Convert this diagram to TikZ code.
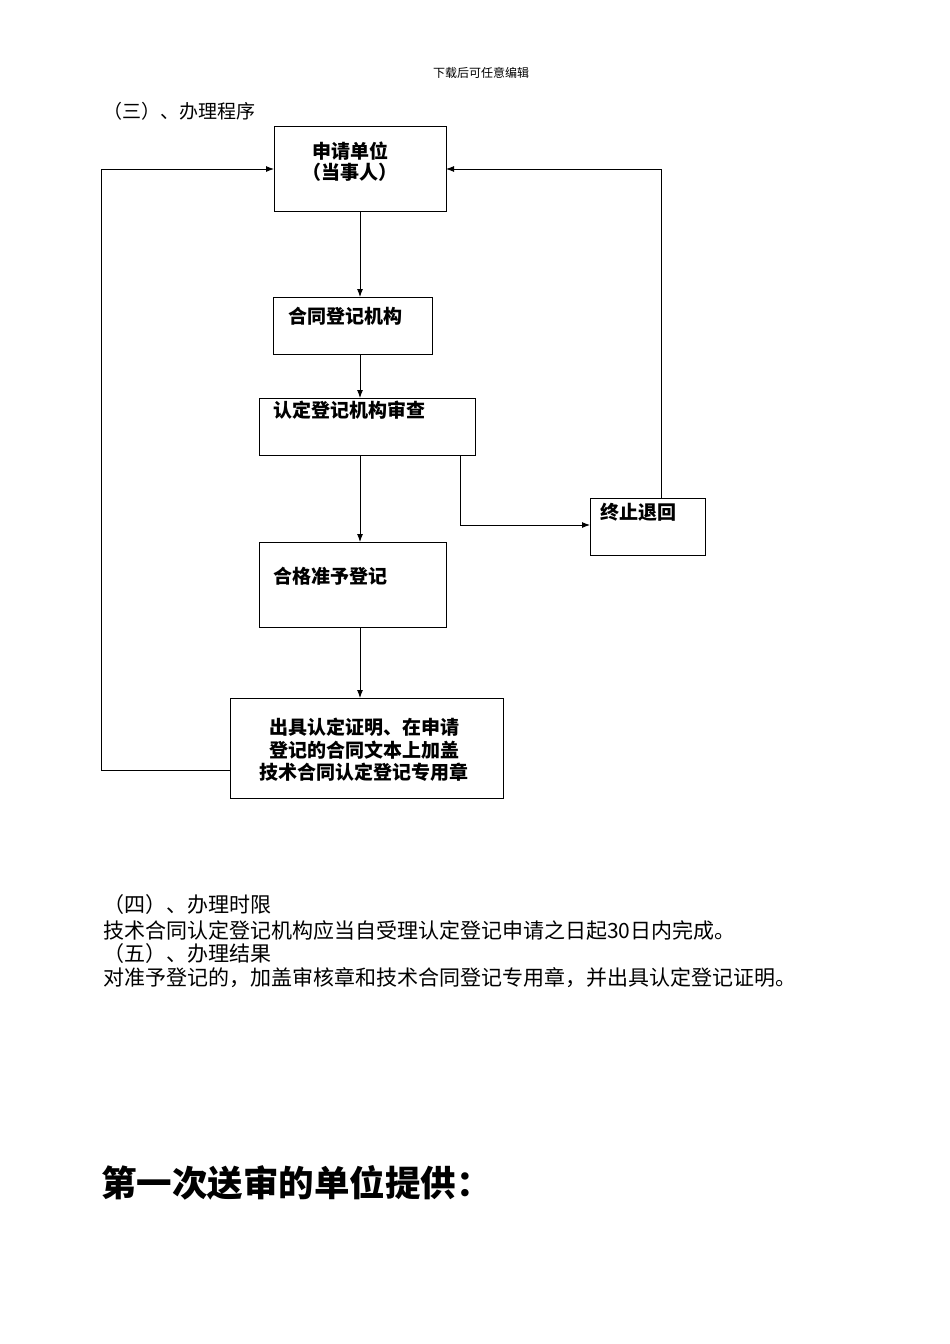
\documentclass[tikz,border=0pt]{standalone}
\usepackage{fontspec}
\setmainfont{Noto Sans CJK SC}
\usetikzlibrary{arrows.meta}
\begin{document}
\begin{tikzpicture}[x=1pt,y=-1pt,
  box/.style={draw,line width=0.9pt},
  lbl/.style={font=\fontsize{19}{21}\selectfont\bfseries,anchor=west,inner sep=0},
  txt/.style={font=\fontsize{21}{24}\selectfont,anchor=west,inner sep=0},
  arr/.style={-{Latex[length=8pt,width=6pt]},line width=0.9pt}]
\useasboundingbox[fill=white] (0,0) rectangle (950,1344);
\node[font=\fontsize{12}{14}\selectfont,inner sep=0] (hdr) at (481,73) {下载后可任意编辑};
\node[txt,font=\fontsize{19}{22}\selectfont] (t3) at (103,111) {（三）、办理程序};
% boxes
\draw[box] (274,126) rectangle (446,211);
\node[lbl,anchor=center,align=center] (a) at (350,162) {申请单位\\（当事人）};
\draw[box] (273,297) rectangle (432,354);
\node[lbl] (b) at (288,316) {合同登记机构};
\draw[box] (259,398) rectangle (475,455);
\node[lbl] (c) at (273,410) {认定登记机构审查};
\draw[box] (590,498) rectangle (705,555);
\node[lbl] (d) at (600,512) {终止退回};
\draw[box] (259,542) rectangle (446,627);
\node[lbl] (e) at (273,576) {合格准予登记};
\draw[box] (230,698) rectangle (503,798);
\node[lbl,anchor=center,align=center,font=\fontsize{19}{22.5}\selectfont\bfseries] (f) at (364,750) {出具认定证明、在申请\\登记的合同文本上加盖\\技术合同认定登记专用章};
% connectors
\coordinate (p1) at (360,211); \coordinate (p2) at (360,297);
\coordinate (p3) at (360,354); \coordinate (p4) at (360,398);
\coordinate (p5) at (360,455); \coordinate (p6) at (360,542);
\coordinate (p7) at (360,627); \coordinate (p8) at (360,698);
\draw[arr] (p1) -- (p2);
\draw[arr] (p3) -- (p4);
\draw[arr] (p5) -- (p6);
\draw[arr] (p7) -- (p8);
\coordinate (q1) at (460,455); \coordinate (q2) at (590,525);
\draw[arr] (q1) |- (q2);
\coordinate (r1) at (661,498); \coordinate (r2) at (446,169);
\draw[arr] (r1) |- (r2);
\coordinate (s1) at (230,770); \coordinate (s2) at (101,770); \coordinate (s3) at (274,169);
\draw[arr] (s1) -- (s2) |- (s3);
% text
\node[txt] (t4) at (103,905) {（四）、办理时限};
\node[txt] (t4b) at (103,930) {技术合同认定登记机构应当自受理认定登记申请之日起30日内完成。};
\node[txt] (t5) at (103,954) {（五）、办理结果};
\node[txt] (t5b) at (103,978) {对准予登记的，加盖审核章和技术合同登记专用章，并出具认定登记证明。};
\node[txt,font=\fontsize{35.5}{40}\selectfont\bfseries] (big) at (101,1183) {第一次送审的单位提供：};
\end{tikzpicture}
\end{document}
